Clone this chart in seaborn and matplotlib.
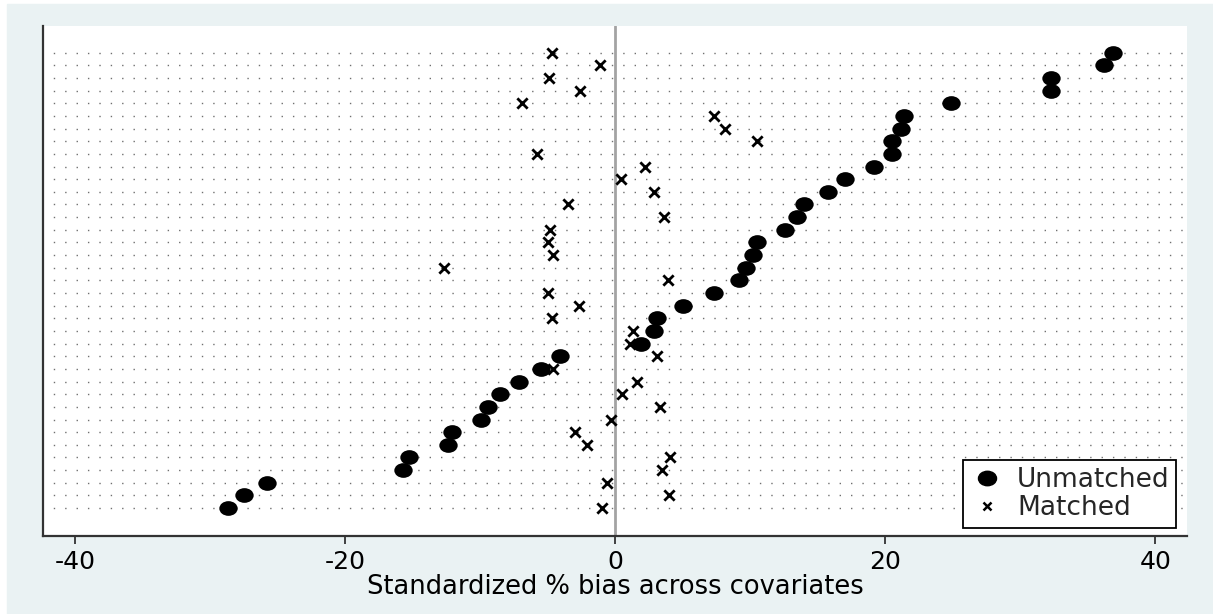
import numpy as np
import pandas as pd
import matplotlib
matplotlib.use("Agg")
import matplotlib.pyplot as plt
from matplotlib.path import Path
from matplotlib.transforms import Affine2D
from matplotlib.lines import Line2D
from matplotlib.patches import Rectangle
import seaborn as sns

# standardized % bias per covariate, rows listed top to bottom
unmatched = [36.9, 36.2, 32.3, 32.3, 24.9, 21.4, 21.2, 20.5, 20.5, 19.2,
             17.0, 15.8, 14.0, 13.5, 12.6, 10.5, 10.2, 9.7, 9.2, 7.3,
             5.0, 3.1, 2.9, 1.9, -4.1, -5.5, -7.1, -8.5, -9.4, -9.9,
             -12.1, -12.4, -15.3, -15.7, -25.8, -27.5, -28.7]
matched = [-4.7, -1.1, -4.9, -2.6, -6.9, 7.3, 8.1, 10.5, -5.8, 2.2,
           0.4, 2.9, -3.5, 3.6, -4.8, -5.0, -4.6, -12.7, 3.9, -5.0,
           -2.7, -4.7, 1.3, 1.1, 3.1, -4.6, 1.6, 0.5, 3.3, -0.3,
           -3.0, -2.1, 4.1, 3.5, -0.6, 4.0, -1.0]
x_ticks = [-40, -20, 0, 20, 40]
series_labels = ["Unmatched", "Matched"]
x_label = "Standardized % bias across covariates"

n_rows = len(unmatched)
df = pd.DataFrame({
    "row": np.arange(n_rows, 0, -1),
    "Unmatched": unmatched,
    "Matched": matched,
})

sns.set_theme(style="white")
plt.rcParams["font.family"] = ["DejaVu Sans"]

W, H = 1213, 614
fig = plt.figure(figsize=(W / 100, H / 100), dpi=100, facecolor="white")
fig.patches.append(Rectangle((7 / W, 0), 1, (H - 4) / H, transform=fig.transFigure,
                             color="#EAF2F3", zorder=-10))

ax = fig.add_axes([43 / W, (H - 536) / H, (1187 - 43) / W, (536 - 26) / H])
ax.set_facecolor("white")

# stata-like slightly wide dot
ellipse = Affine2D().scale(1.25, 1.0).transform_path(Path.unit_circle())

# dotted row guides and the zero line
for r in df["row"]:
    ax.axhline(r, color="#707070", lw=1.0, linestyle=(9.0, (1, 7.2)), zorder=1)
ax.axvline(0, color="#a3a3a3", lw=2.0, zorder=1.5)

sns.scatterplot(data=df, x="Unmatched", y="row", marker=ellipse, s=175,
                color="black", linewidth=0, ax=ax, zorder=3)
sns.scatterplot(data=df, x="Matched", y="row", marker="x", s=55,
                color="black", linewidth=2.0, ax=ax, zorder=3)

ax.set_xlim(-42.37, 42.35)
ax.set_ylim(-1.21, n_rows + 2.11)
ax.set_xticks(x_ticks)
ax.set_xticklabels([str(t) for t in x_ticks], fontsize=18, color="black")
ax.set_yticks([])
ax.set_xlabel(x_label, fontsize=18.5, color="black", labelpad=0)
ax.set_ylabel("")

ax.tick_params(axis="x", direction="out", length=6, width=1.3,
               color="#333333", pad=4, bottom=True)
for side in ["top", "right"]:
    ax.spines[side].set_visible(False)
for side in ["left", "bottom"]:
    ax.spines[side].set_color("#333333")
    ax.spines[side].set_linewidth(1.6)

handles = [
    Line2D([], [], marker=ellipse, color="black", linestyle="none", markersize=13),
    Line2D([], [], marker="x", color="black", linestyle="none",
           markersize=6, markeredgewidth=1.8),
]
leg = ax.legend(handles, series_labels, loc="lower right",
                bbox_to_anchor=(0.9907, 0.0157), borderaxespad=0,
                fontsize=19, frameon=True, fancybox=False, framealpha=1,
                edgecolor="black", handletextpad=0.5, handlelength=1.3,
                borderpad=0.25, labelspacing=0.1)
leg.get_frame().set_linewidth(1.3)

fig.savefig("out.png", dpi=100)
